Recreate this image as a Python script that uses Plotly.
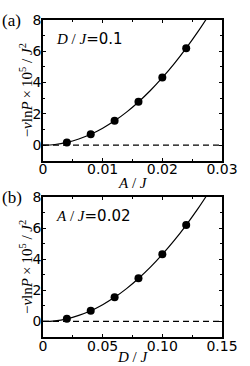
import plotly.graph_objects as go

# Panel (a): D/J = 0.1, vary A/J
a_x = [0.004, 0.008, 0.012, 0.016, 0.020, 0.024]
a_y = [0.17, 0.69, 1.55, 2.78, 4.32, 6.20]
a_fit_x = [0.0, 0.002, 0.004, 0.006, 0.008, 0.010, 0.012, 0.014, 0.016, 0.018, 0.020, 0.022, 0.024, 0.026, 0.0273]
a_fit_y = [0.0, 0.04, 0.17, 0.39, 0.69, 1.08, 1.55, 2.11, 2.76, 3.49, 4.31, 5.21, 6.20, 7.27, 8.02]

# Panel (b): A/J = 0.02, vary D/J
b_x = [0.02, 0.04, 0.06, 0.08, 0.10, 0.12]
b_y = [0.17, 0.69, 1.55, 2.78, 4.32, 6.20]
b_fit_x = [0.0, 0.01, 0.02, 0.03, 0.04, 0.05, 0.06, 0.07, 0.08, 0.09, 0.10, 0.11, 0.12, 0.13, 0.1365]
b_fit_y = [0.0, 0.04, 0.17, 0.39, 0.69, 1.08, 1.55, 2.11, 2.76, 3.49, 4.31, 5.21, 6.20, 7.27, 8.02]

a_xticks = [0, 0.01, 0.02, 0.03]
a_xlabels = ["0", "0.01", "0.02", "0.03"]
b_xticks = [0, 0.05, 0.10, 0.15]
b_xlabels = ["0", "0.05", "0.10", "0.15"]
yticks = [0, 2, 4, 6, 8]

fig = go.Figure()

def add_panel(xs, ys, fx, fy, xmax, xa, ya):
    fig.add_trace(go.Scatter(x=[0, xmax], y=[0, 0], mode="lines",
                             line=dict(color="black", width=1.2, dash="6px,4px"),
                             xaxis=xa, yaxis=ya, showlegend=False, hoverinfo="skip"))
    fig.add_trace(go.Scatter(x=fx, y=fy, mode="lines",
                             line=dict(color="black", width=1.2, shape="spline"),
                             xaxis=xa, yaxis=ya, showlegend=False))
    fig.add_trace(go.Scatter(x=xs, y=ys, mode="markers",
                             marker=dict(color="black", size=8),
                             xaxis=xa, yaxis=ya, showlegend=False))

add_panel(a_x, a_y, a_fit_x, a_fit_y, 0.03, "x", "y")
add_panel(b_x, b_y, b_fit_x, b_fit_y, 0.15, "x2", "y2")

tickfont = dict(family="DejaVu Sans", size=14, color="black")
common = dict(showline=True, linecolor="black", linewidth=1.5, mirror="ticks",
              ticks="inside", ticklen=3, tickwidth=1, tickcolor="black",
              showgrid=False, zeroline=False, tickfont=tickfont,
              ticklabeloverflow="allow")
common_x = dict(common, ticklabelstandoff=-5)
common_y = dict(common, range=[-1, 8], tickvals=yticks, ticklabelstandoff=-3,
                minor=dict(ticks="inside", ticklen=2, tickcolor="black", dtick=1, tick0=0))

fig.update_layout(
    width=250, height=366,
    margin=dict(l=43, r=14, t=14, b=28),
    paper_bgcolor="white", plot_bgcolor="white",
    xaxis=dict(common_x, domain=[0, 1], anchor="y", range=[0, 0.03],
               tickvals=a_xticks, ticktext=a_xlabels,
               minor=dict(ticks="inside", ticklen=2, tickcolor="black", dtick=0.005, tick0=0)),
    yaxis=dict(common_y, domain=[0.556, 1], anchor="x"),
    xaxis2=dict(common_x, domain=[0, 1], anchor="y2", range=[0, 0.15],
                tickvals=b_xticks, ticktext=b_xlabels,
                minor=dict(ticks="inside", ticklen=2, tickcolor="black", dtick=0.025, tick0=0)),
    yaxis2=dict(common_y, domain=[0, 0.4414], anchor="x2"),
)

serif = "Liberation Serif"
ylab = "−<i>v</i>ln<i>P</i>\u2009×\u200910<sup>5</sup> / <i>J</i><sup>2</sup>"
annos = [
    dict(text="(a)", x=0, y=1, xref="paper", yref="paper", xanchor="left", yanchor="middle",
         xshift=-43, yshift=0, font=dict(family=serif, size=17, color="black"), showarrow=False),
    dict(text="(b)", x=0, y=0.4414, xref="paper", yref="paper", xanchor="left", yanchor="middle",
         xshift=-43, yshift=0, font=dict(family=serif, size=17, color="black"), showarrow=False),
    dict(text="<i>D</i> / <i>J</i><span style='font-family:DejaVu Sans'>=0.1</span>",
         x=0, y=1, xref="paper", yref="paper", xanchor="left", yanchor="middle",
         xshift=11, yshift=-19, font=dict(family=serif, size=15, color="black"), showarrow=False),
    dict(text="<i>A</i> / <i>J</i><span style='font-family:DejaVu Sans'>=0.02</span>",
         x=0, y=0.4414, xref="paper", yref="paper", xanchor="left", yanchor="middle",
         xshift=11, yshift=-19, font=dict(family=serif, size=15, color="black"), showarrow=False),
    dict(text=ylab, x=0, y=0.778, xref="paper", yref="paper", xanchor="center", yanchor="middle",
         xshift=-17, textangle=-90, font=dict(family=serif, size=15, color="black"), showarrow=False),
    dict(text=ylab, x=0, y=0.2207, xref="paper", yref="paper", xanchor="center", yanchor="middle",
         xshift=-17, textangle=-90, font=dict(family=serif, size=15, color="black"), showarrow=False),
    dict(text="<i>A</i> / <i>J</i>", x=0.5, y=0.556, xref="paper", yref="paper",
         xanchor="center", yanchor="middle", yshift=-22,
         font=dict(family=serif, size=15, color="black"), showarrow=False),
    dict(text="<i>D</i> / <i>J</i>", x=0.5, y=0, xref="paper", yref="paper",
         xanchor="center", yanchor="middle", yshift=-20,
         font=dict(family=serif, size=15, color="black"), showarrow=False),
]
fig.update_layout(annotations=annos)

fig.write_html("out.html", config={"displayModeBar": False},
               post_script="document.body.style.margin='0';document.body.style.padding='0';")
